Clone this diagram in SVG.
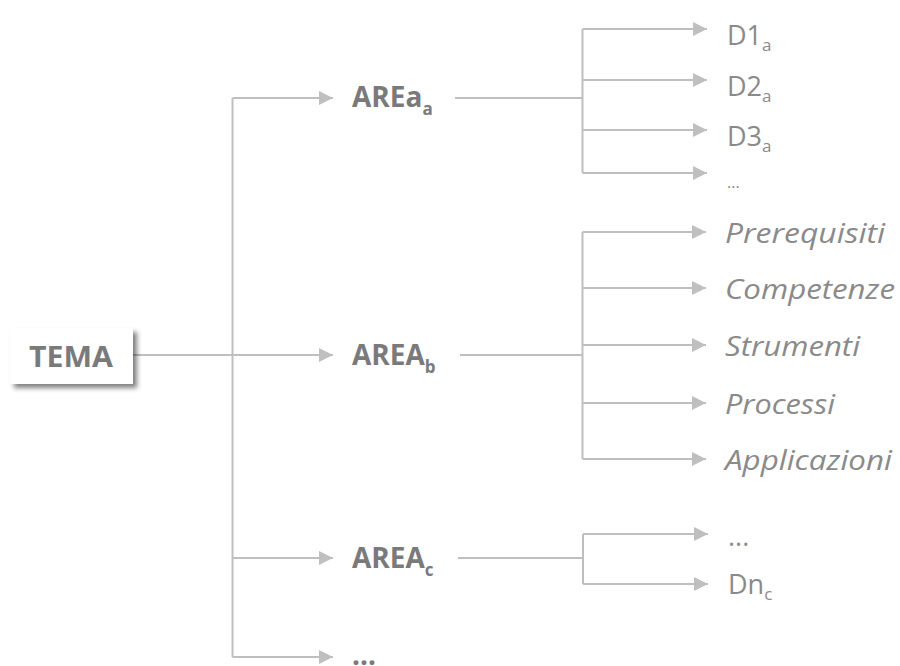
<svg xmlns="http://www.w3.org/2000/svg" width="900" height="666" viewBox="0 0 900 666">
<style>
.ln{fill:none;stroke:#bfbfbf;stroke-width:2}
.ar{fill:none;stroke:#bfbfbf;stroke-width:2;marker-end:url(#ah)}
.bold{font-family:"Open Sans","Liberation Sans",sans-serif;font-weight:bold;fill:#7a7a7a;font-size:28px}
.reg{font-family:"Open Sans","Liberation Sans",sans-serif;fill:#8a8a8a;font-size:27px}
.it{font-family:"Open Sans","Liberation Sans",sans-serif;font-style:italic;fill:#8a8a8a;font-size:28px}
.sub{font-size:17px}
.dots{font-family:"Open Sans","Liberation Sans",sans-serif;fill:#8a8a8a;font-size:16px}
</style>
<defs>
<marker id="ah" markerUnits="userSpaceOnUse" markerWidth="16" markerHeight="14" refX="14" refY="7" orient="auto">
<path d="M0,0 L14,7 L0,14 Z" fill="#bfbfbf"/>
</marker>
<filter id="sh" x="-20%" y="-20%" width="150%" height="160%">
<feGaussianBlur in="SourceAlpha" stdDeviation="2.5"/>
<feOffset dx="4" dy="4" result="b"/>
<feComponentTransfer><feFuncA type="linear" slope="0.5"/></feComponentTransfer>
<feMerge><feMergeNode/><feMergeNode in="SourceGraphic"/></feMerge>
</filter>
</defs>
<rect width="900" height="666" fill="#ffffff"/>
<g id="connectors">
<path class="ln" d="M133,355 H232.5"/>
<path class="ln" d="M232.5,98 V657"/>
<path class="ar" d="M232.5,98 H333"/>
<path class="ar" d="M232.5,355 H333"/>
<path class="ar" d="M232.5,558 H333"/>
<path class="ar" d="M232.5,657 H333"/>
<path class="ln" d="M455,98 H582.5"/>
<path class="ln" d="M582.5,29 V173"/>
<path class="ar" d="M582.5,29 H707"/>
<path class="ar" d="M582.5,80 H707"/>
<path class="ar" d="M582.5,130 H707"/>
<path class="ar" d="M582.5,173 H707"/>
<path class="ln" d="M460,355 H582.5"/>
<path class="ln" d="M582.5,232 V459"/>
<path class="ar" d="M582.5,232 H706"/>
<path class="ar" d="M582.5,288 H706"/>
<path class="ar" d="M582.5,345 H706"/>
<path class="ar" d="M582.5,403 H706"/>
<path class="ar" d="M582.5,459 H706"/>
<path class="ln" d="M458,558 H583"/>
<path class="ln" d="M583,534 V584"/>
<path class="ar" d="M583,534 H708"/>
<path class="ar" d="M583,584 H708"/>
</g>
<g id="tema">
<rect x="10" y="328" width="123" height="56" fill="#ffffff" filter="url(#sh)"/>
<text x="71" y="367" text-anchor="middle" class="bold" font-size="27" textLength="84" lengthAdjust="spacingAndGlyphs">TEMA</text>
</g>
<g id="area-a"><text x="352" y="107" class="bold">AREa<tspan class="sub" dy="8">a</tspan></text></g>
<g id="area-b"><text x="352" y="365" class="bold">AREA<tspan class="sub" dy="8">b</tspan></text></g>
<g id="area-c"><text x="352" y="568" class="bold">AREA<tspan class="sub" dy="8">c</tspan></text></g>
<g id="area-more"><text x="352" y="665" class="bold">...</text></g>
<g id="d1a"><text x="727" y="45" class="reg">D1<tspan class="sub" dy="6">a</tspan></text></g>
<g id="d2a"><text x="727" y="96" class="reg">D2<tspan class="sub" dy="6">a</tspan></text></g>
<g id="d3a"><text x="727" y="146" class="reg">D3<tspan class="sub" dy="6">a</tspan></text></g>
<g id="more-a"><text x="727" y="188" class="dots">...</text></g>
<g id="prerequisiti"><text x="725" y="243" class="it" textLength="160" lengthAdjust="spacingAndGlyphs">Prerequisiti</text></g>
<g id="competenze"><text x="725" y="299" class="it" textLength="170" lengthAdjust="spacingAndGlyphs">Competenze</text></g>
<g id="strumenti"><text x="725" y="356" class="it" textLength="135" lengthAdjust="spacingAndGlyphs">Strumenti</text></g>
<g id="processi"><text x="725" y="414" class="it" textLength="110" lengthAdjust="spacingAndGlyphs">Processi</text></g>
<g id="applicazioni"><text x="725" y="470" class="it" textLength="167" lengthAdjust="spacingAndGlyphs">Applicazioni</text></g>
<g id="more-c"><text x="728" y="546" class="reg" font-size="20">...</text></g>
<g id="dnc"><text x="728" y="594" class="reg">Dn<tspan class="sub" dy="6">c</tspan></text></g>
</svg>
